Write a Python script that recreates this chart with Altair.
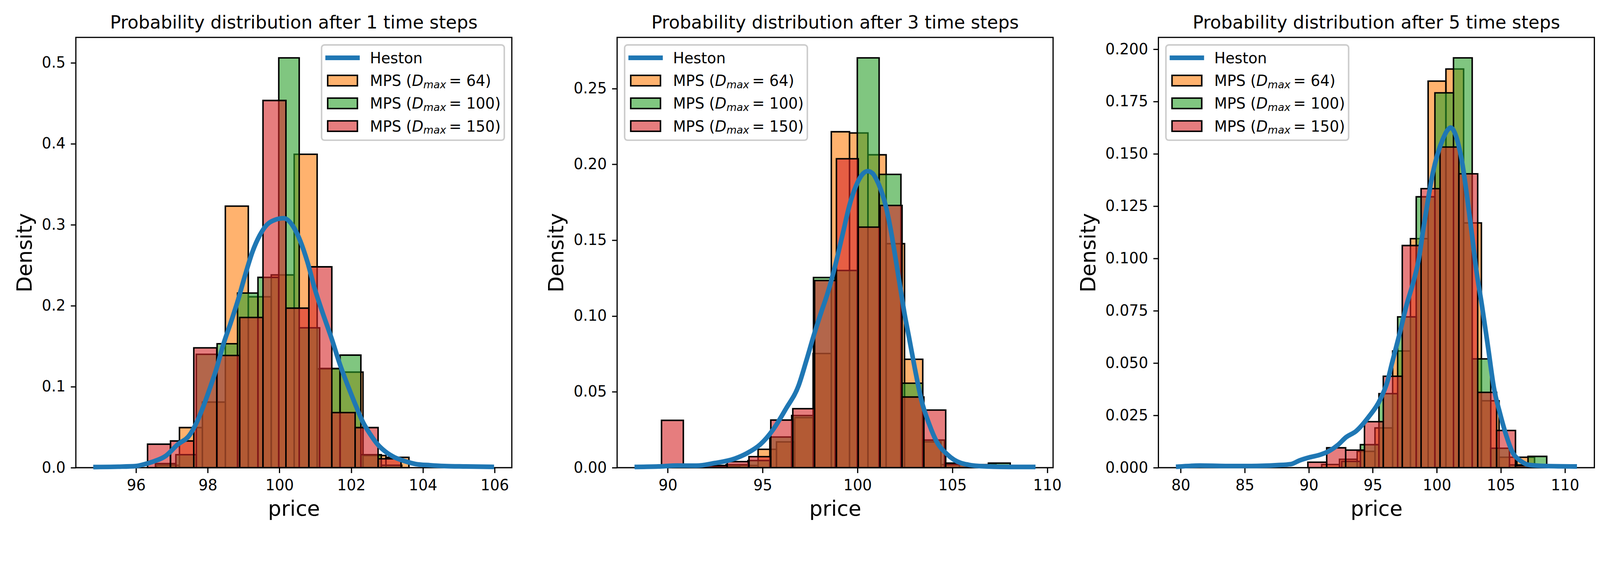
import altair as alt
import pandas as pd

# ---------------- data ----------------
TITLES = [
    "Probability distribution after 1 time steps",
    "Probability distribution after 3 time steps",
    "Probability distribution after 5 time steps",
]
SERIES_LABELS = ["64", "100", "150"]
SERIES_COLORS = ["#ff7f0e", "#2ca02c", "#d62728"]
HESTON_COLOR = "#1f77b4"

# panel 1 (1 time step)
P1_ORANGE_EDGES = [96.57, 97.21, 97.85, 98.49, 99.13, 99.77, 100.41, 101.05, 101.69, 102.33, 102.97, 103.61]
P1_ORANGE_H = [0.003, 0.0495, 0.081, 0.323, 0.211, 0.238, 0.387, 0.122, 0.118, 0.015, 0.0128]
P1_GREEN_EDGES = [96.54, 97.11, 97.68, 98.26, 98.83, 99.40, 99.98, 100.55, 101.12, 101.69, 102.27, 102.84, 103.41]
P1_GREEN_H = [0.005, 0.016, 0.14, 0.153, 0.2156, 0.235, 0.506, 0.1727, 0.1225, 0.139, 0.016, 0.003]
P1_RED_EDGES = [96.32, 96.96, 97.61, 98.25, 98.89, 99.54, 100.18, 100.82, 101.46, 102.11, 102.75, 103.39]
P1_RED_H = [0.029, 0.033, 0.148, 0.1386, 0.1855, 0.4534, 0.197, 0.248, 0.068, 0.0495, 0.011]
P1_HESTON_X = [94.87, 95.5, 96.0, 96.15, 96.49, 96.82, 97.16, 97.5, 97.67, 97.84, 98.04, 98.24, 98.44,
               98.64, 98.85, 99.05, 99.25, 99.45, 99.65, 99.86, 100.12, 100.38, 100.58, 100.78, 100.99,
               101.19, 101.45, 101.69, 101.9, 102.08, 102.33, 102.52, 102.72, 102.95, 103.2, 103.5,
               103.8, 104.2, 104.6, 105.2, 105.92]
P1_HESTON_Y = [0.0008, 0.0012, 0.002, 0.0033, 0.0077, 0.0143, 0.0286, 0.0407, 0.054, 0.0715, 0.0957,
               0.122, 0.153, 0.179, 0.208, 0.239, 0.267, 0.287, 0.300, 0.3058, 0.308, 0.298, 0.280,
               0.254, 0.220, 0.193, 0.160, 0.127, 0.102, 0.082, 0.056, 0.042, 0.0297, 0.020, 0.013,
               0.008, 0.0045, 0.003, 0.002, 0.0015, 0.001]

# panel 2 (3 time steps)
P2_ORANGE_EDGES = [92.84, 93.80, 94.76, 95.73, 96.69, 97.66, 98.62, 99.58, 100.55, 101.51, 102.48,
                   103.44, 104.40, 105.37, 106.33, 107.30]
P2_ORANGE_H = [0.001, 0.0015, 0.0121, 0.017, 0.033, 0.0753, 0.2215, 0.2207, 0.2063, 0.1477, 0.0715,
               0.017, 0.002, 0.002, 0.002]
P2_GREEN_EDGES = [91.92, 93.07, 94.23, 95.38, 96.53, 97.68, 98.83, 99.99, 101.14, 102.29, 103.44,
                  104.59, 105.75, 106.90, 108.05]
P2_GREEN_H = [0.001, 0.002, 0.0047, 0.0202, 0.0344, 0.1254, 0.130, 0.2702, 0.1934, 0.0557, 0.0182,
              0.002, 0.001, 0.003]
P2_RED_EDGES = [89.67, 90.82, 91.97, 93.13, 94.28, 95.43, 96.59, 97.74, 98.89, 100.04, 101.19, 102.35,
                103.50, 104.65, 105.80]
P2_RED_H = [0.0312, 0.0, 0.0015, 0.004, 0.0073, 0.0314, 0.0389, 0.1234, 0.2037, 0.1586, 0.1729,
            0.0466, 0.038, 0.003]
P2_HESTON_X = [88.37, 89.5, 90.5, 91.5, 92.46, 93.54, 94.2, 94.88, 95.55, 96.23, 96.9, 97.3, 97.7,
               98.1, 98.4, 98.8, 99.2, 99.6, 100.0, 100.3, 100.54, 100.8, 101.0, 101.21, 101.48,
               101.75, 102.02, 102.29, 102.5, 102.7, 103.03, 103.37, 103.77, 104.18, 104.72, 105.47,
               106.5, 108.0, 109.26]
P2_HESTON_Y = [0.0005, 0.0008, 0.0014, 0.0013, 0.003, 0.006, 0.0097, 0.0154, 0.0251, 0.0389, 0.0543,
               0.0704, 0.0874, 0.103, 0.114, 0.132, 0.153, 0.174, 0.188, 0.194, 0.1955, 0.194, 0.190,
               0.184, 0.173, 0.157, 0.137, 0.116, 0.100, 0.087, 0.065, 0.0445, 0.029, 0.017, 0.0089,
               0.003, 0.001, 0.0005, 0.0005]

# panel 3 (5 time steps)
P3_ORANGE_EDGES = [91.01, 92.40, 93.78, 95.17, 96.55, 97.94, 99.32, 100.71, 102.09, 103.48, 104.86,
                   106.25, 107.63]
P3_ORANGE_H = [0.0015, 0.004, 0.0078, 0.019, 0.0558, 0.1095, 0.1848, 0.1906, 0.117, 0.032, 0.005, 0.005]
P3_GREEN_EDGES = [92.57, 94.03, 95.48, 96.94, 98.39, 99.85, 101.30, 102.76, 104.21, 105.67, 107.12, 108.58]
P3_GREEN_H = [0.003, 0.011, 0.0354, 0.0721, 0.1295, 0.1792, 0.1959, 0.052, 0.0093, 0.0013, 0.0054]
P3_RED_EDGES = [89.93, 91.40, 92.88, 94.35, 95.82, 97.30, 98.77, 100.25, 101.72, 103.19, 104.67,
                106.14, 107.62]
P3_RED_H = [0.0026, 0.0095, 0.0084, 0.022, 0.0437, 0.1062, 0.1334, 0.1533, 0.1405, 0.036, 0.0178, 0.001]
P3_HESTON_X = [79.81, 81.5, 83.5, 85.5, 87.5, 88.6, 89.3, 90.1, 90.9, 91.6, 92.3, 92.9, 93.7, 94.64,
               95.57, 96.13, 96.5, 97.07, 97.63, 98.19, 98.6, 98.94, 99.31, 99.69, 100.06, 100.44,
               100.81, 101.09, 101.37, 101.65, 101.93, 102.21, 102.49, 102.77, 103.05, 103.52,
               103.99, 104.46, 104.93, 105.39, 105.86, 106.6, 107.2, 108.5, 110.76]
P3_HESTON_Y = [0.0005, 0.001, 0.0008, 0.0008, 0.0012, 0.0017, 0.0035, 0.005, 0.0062, 0.008, 0.011,
               0.0145, 0.0175, 0.024, 0.0325, 0.041, 0.05, 0.0635, 0.0776, 0.0893, 0.1, 0.114, 0.128,
               0.141, 0.15, 0.1566, 0.1612, 0.1626, 0.1605, 0.1553, 0.1475, 0.1364, 0.1234, 0.1101,
               0.0959, 0.0776, 0.058, 0.038, 0.026, 0.016, 0.008, 0.003, 0.0013, 0.0008, 0.0006]

HISTS = [
    [(P1_ORANGE_EDGES, P1_ORANGE_H), (P1_GREEN_EDGES, P1_GREEN_H), (P1_RED_EDGES, P1_RED_H)],
    [(P2_ORANGE_EDGES, P2_ORANGE_H), (P2_GREEN_EDGES, P2_GREEN_H), (P2_RED_EDGES, P2_RED_H)],
    [(P3_ORANGE_EDGES, P3_ORANGE_H), (P3_GREEN_EDGES, P3_GREEN_H), (P3_RED_EDGES, P3_RED_H)],
]
HESTON = [(P1_HESTON_X, P1_HESTON_Y), (P2_HESTON_X, P2_HESTON_Y), (P3_HESTON_X, P3_HESTON_Y)]

X_DOMAINS = [[94.32, 106.48], [87.33, 110.31], [78.26, 112.30]]
X_TICKS = [[96, 98, 100, 102, 104, 106], [90, 95, 100, 105, 110], [80, 85, 90, 95, 100, 105, 110]]
Y_DOMAINS = [[0, 0.5313], [0, 0.2837], [0, 0.2057]]
Y_TICKS = [[0, 0.1, 0.2, 0.3, 0.4, 0.5],
           [0, 0.05, 0.1, 0.15, 0.2, 0.25],
           [0, 0.025, 0.05, 0.075, 0.1, 0.125, 0.15, 0.175, 0.2]]
Y_FORMATS = [".1f", ".2f", ".3f"]
LEGEND_SIDE = ["right", "left", "left"]

# ---------------- style ----------------
PT = 300 / 72.0
FONT = "DejaVu Sans"
W, H = 1217, 1201
TICK_FS = 10 * PT
TITLE_FS = 12 * PT
AXIS_TITLE_FS = 14 * PT
EDGE_W = 1.0 * PT
SPINE_W = 0.8 * PT
LINE_W = 13

DUMMY = pd.DataFrame({"d": [0]})


def vtext(txt, x, y, size=TICK_FS, style="normal", align="left"):
    return alt.Chart(DUMMY).mark_text(
        font=FONT, fontSize=size, fontStyle=style, align=align,
        baseline="alphabetic", color="black"
    ).encode(x=alt.value(x), y=alt.value(y), text=alt.value(txt))


def legend_layers(side):
    bw, bh, inset = 510, 266, 21
    bx = W - inset - bw if side == "right" else inset
    by = inset
    out = [alt.Chart(DUMMY).mark_rect(
        fill="white", fillOpacity=0.8, stroke="#cccccc", strokeWidth=EDGE_W, cornerRadius=8
    ).encode(x=alt.value(bx), x2=alt.value(bx + bw), y=alt.value(by), y2=alt.value(by + bh))]
    rows = [by + 36, by + 99.5, by + 163, by + 226.5]
    hx0, hx1 = bx + 17, bx + 100
    tx = bx + 135
    base = 0.365 * TICK_FS
    # Heston entry
    out.append(alt.Chart(DUMMY).mark_rule(
        color=HESTON_COLOR, strokeWidth=LINE_W, strokeCap="square"
    ).encode(x=alt.value(hx0), x2=alt.value(hx1), y=alt.value(rows[0]), y2=alt.value(rows[0])))
    out.append(vtext("Heston", tx, rows[0] + base))
    # MPS entries
    for k, (lab, col) in enumerate(zip(SERIES_LABELS, SERIES_COLORS)):
        cy = rows[k + 1]
        out.append(alt.Chart(DUMMY).mark_rect(
            fill=col, fillOpacity=0.6, stroke="black", strokeWidth=EDGE_W
        ).encode(x=alt.value(hx0), x2=alt.value(hx1),
                 y=alt.value(cy - 0.35 * TICK_FS), y2=alt.value(cy + 0.35 * TICK_FS)))
        yb = cy + base
        out.append(vtext("MPS (", tx, yb))
        out.append(vtext("D", tx + 2.809 * TICK_FS, yb, style="italic"))
        out.append(vtext("max", tx + 3.579 * TICK_FS, yb + 6, size=0.7 * TICK_FS, style="italic"))
        out.append(vtext("= " + lab + ")", tx + 5.30 * TICK_FS, yb))
    return out


def make_panel(i):
    xs = alt.Scale(domain=X_DOMAINS[i], nice=False, zero=False)
    ys = alt.Scale(domain=Y_DOMAINS[i], nice=False, zero=False)
    common = dict(
        grid=False, domain=False, labelFont=FONT, labelFontSize=TICK_FS, labelColor="black",
        labelPadding=3.5 * PT, tickSize=3.5 * PT, tickWidth=SPINE_W, tickColor="black",
        titleFont=FONT, titleFontSize=AXIS_TITLE_FS, titleFontWeight="normal", titleColor="black",
        titlePadding=4 * PT, labelOverlap=False, labelFlush=False,
    )
    xa = alt.Axis(values=X_TICKS[i], format="d", title="price", **common)
    ya = alt.Axis(values=Y_TICKS[i], format=Y_FORMATS[i], title="Density", **common)

    layers = []
    for s, (edges, heights) in enumerate(HISTS[i]):
        df = pd.DataFrame({"x0": edges[:-1], "x1": edges[1:], "h": heights})
        layers.append(alt.Chart(df).mark_rect(
            fill=SERIES_COLORS[s], fillOpacity=0.6, stroke="black", strokeWidth=EDGE_W
        ).encode(
            x=alt.X("x0:Q", scale=xs, axis=xa),
            x2=alt.X2("x1"),
            y=alt.Y("h:Q", scale=ys, axis=ya),
            y2=alt.datum(0),
        ))
    hx, hy = HESTON[i]
    hdf = pd.DataFrame({"x": hx, "y": hy})
    layers.append(alt.Chart(hdf).mark_line(
        color=HESTON_COLOR, strokeWidth=LINE_W, interpolate="monotone", strokeCap="square"
    ).encode(x=alt.X("x:Q", scale=xs, axis=xa), y=alt.Y("y:Q", scale=ys, axis=ya)))
    layers += legend_layers(LEGEND_SIDE[i])
    # panel title drawn as a text mark above the plot area
    layers.append(vtext(TITLES[i], W / 2, -25, size=TITLE_FS, align="center"))

    return alt.layer(*layers).properties(width=W, height=H)


chart = alt.hconcat(
    make_panel(0), make_panel(1), make_panel(2), spacing=294, bounds="flush"
).properties(
    padding={"left": 30, "top": -34, "right": 5, "bottom": 5},
    background="white",
).configure_view(stroke="black", strokeWidth=SPINE_W)

chart.save("out.html", embed_options={"renderer": "svg", "actions": False})
